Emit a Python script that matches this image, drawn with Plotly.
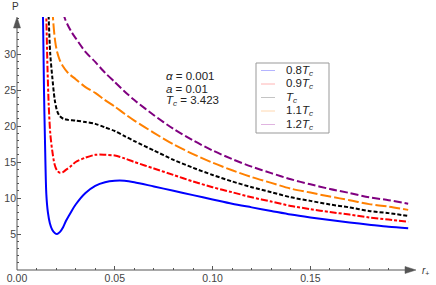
import plotly.graph_objects as go

# ---------------- data ----------------
r_08 = [0.0126, 0.0133, 0.0138, 0.0143, 0.0150, 0.0158, 0.0168, 0.0180, 0.0193, 0.0205,
        0.0220, 0.0235, 0.025, 0.0275, 0.030, 0.035, 0.040, 0.045, 0.050, 0.055,
        0.060, 0.070, 0.080, 0.090, 0.100, 0.110, 0.120, 0.130, 0.140, 0.150,
        0.160, 0.170, 0.180, 0.190, 0.200]
p_08 = [42, 35, 25, 18, 10.5, 8.0, 6.5, 5.6, 5.15, 5.0,
        5.3, 5.9, 6.8, 8.0, 9.1, 10.7, 11.7, 12.2, 12.4, 12.4,
        12.2, 11.6, 11.0, 10.4, 9.8, 9.2, 8.7, 8.2, 7.7, 7.3,
        6.95, 6.6, 6.3, 6.0, 5.8]

r_09 = [0.0143, 0.0150, 0.0156, 0.0162, 0.0170, 0.0180, 0.0192, 0.0205, 0.0220, 0.0235,
        0.025, 0.0275, 0.030, 0.035, 0.040, 0.045, 0.050, 0.055, 0.060, 0.070,
        0.080, 0.090, 0.100, 0.110, 0.120, 0.130, 0.140, 0.150, 0.160, 0.170,
        0.180, 0.190, 0.200]
p_09 = [42, 35, 28, 23, 19, 16.6, 14.7, 13.8, 13.5, 13.6,
        13.9, 14.4, 15.0, 15.6, 16.0, 16.0, 15.9, 15.5, 15.0, 14.1,
        13.2, 12.3, 11.5, 10.8, 10.1, 9.5, 8.9, 8.45, 8.05, 7.7,
        7.3, 7.0, 6.7]

r_10 = [0.0155, 0.0162, 0.0170, 0.0180, 0.0193, 0.0205, 0.0218, 0.0237, 0.026, 0.030,
        0.035, 0.040, 0.045, 0.050, 0.055, 0.060, 0.070, 0.080, 0.090, 0.100,
        0.110, 0.120, 0.130, 0.140, 0.150, 0.160, 0.170, 0.180, 0.190, 0.200]
p_10 = [42, 35, 30, 26.9, 23.6, 22.1, 21.4, 21.0, 20.85, 20.75,
        20.55, 20.3, 19.8, 19.3, 18.6, 17.9, 16.6, 15.3, 14.2, 13.2,
        12.3, 11.5, 10.8, 10.1, 9.6, 9.1, 8.7, 8.2, 7.9, 7.5]

r_11 = [0.0176, 0.0184, 0.0195, 0.0205, 0.0218, 0.0235, 0.026, 0.030, 0.035, 0.040,
        0.045, 0.050, 0.055, 0.060, 0.070, 0.080, 0.090, 0.100, 0.110, 0.120,
        0.130, 0.140, 0.150, 0.160, 0.170, 0.180, 0.190, 0.200]
p_11 = [42, 35, 31.8, 30.3, 29.2, 28.3, 27.4, 26.5, 25.4, 24.6,
        23.6, 22.7, 21.7, 20.75, 19.05, 17.45, 16.1, 14.9, 13.85, 12.9,
        12.1, 11.3, 10.75, 10.2, 9.7, 9.15, 8.8, 8.35]

r_12 = [0.0225, 0.0244, 0.026, 0.028, 0.030, 0.035, 0.040, 0.045, 0.050, 0.055,
        0.060, 0.070, 0.080, 0.090, 0.100, 0.110, 0.120, 0.130, 0.140, 0.150,
        0.160, 0.170, 0.180, 0.190, 0.200]
p_12 = [37.2, 35.0, 34.0, 33.0, 32.2, 30.3, 28.9, 27.4, 26.1, 24.8,
        23.6, 21.5, 19.6, 18.0, 16.6, 15.4, 14.35, 13.45, 12.6, 11.9,
        11.25, 10.7, 10.1, 9.7, 9.2]

series_labels = ["0.8<i>T<sub>c</sub></i>", "0.9<i>T<sub>c</sub></i>", "<i>T<sub>c</sub></i>",
                 "1.1<i>T<sub>c</sub></i>", "1.2<i>T<sub>c</sub></i>"]
x_tick_vals = [0, 0.05, 0.10, 0.15]
x_tick_text = ["0.00", "0.05", "0.10", "0.15"]
y_tick_vals = [5, 10, 15, 20, 25, 30]
y_tick_text = ["5", "10", "15", "20", "25", "30"]
param_lines = ["<i>α</i> = 0.001", "<i>a</i> = 0.01", "<i>T<sub>c</sub></i> = 3.423"]

# ---------------- styling ----------------
W, H = 436, 285
ML, MR, MT, MB = 17, 20, 17, 15
X_MAX = 0.204
Y_MAX = 35.14
FONT = "Liberation Sans, Arial, sans-serif"
AX = "#555555"

colors = ["#0000FF", "#FF0000", "#000000", "#FF8000", "#800080"]
dashes = ["solid", "7px,2px,3px,2px", "4px,2px", "11px,3px", "8px,3px"]
legend_colors = ["#B4B4FF", "#FFB4B4", "#C4C4C4", "#FFD8B0", "#E0B4E0"]

PW = W - ML - MR
PH = H - MT - MB


def px_x(px):
    return (px - ML) / PW


def px_y(py):
    return (H - MB - py) / PH


fig = go.Figure()
all_r = [r_08, r_09, r_10, r_11, r_12]
all_p = [p_08, p_09, p_10, p_11, p_12]
for r, p, c, d, name in zip(all_r, all_p, colors, dashes, series_labels):
    fig.add_trace(go.Scatter(x=r, y=p, mode="lines", name=name,
                             line=dict(color=c, width=2, dash=d, shape="spline", smoothing=0.8),
                             showlegend=False, hoverinfo="skip"))

annotations = []
shapes = []

# axis lines with arrowheads (Mathematica style)
ox, oy = px_x(ML), px_y(H - MB)
shapes.append(dict(type="line", xref="paper", yref="paper", x0=ox, y0=oy, x1=px_x(408), y1=oy,
                   line=dict(color=AX, width=1), layer="above"))
shapes.append(dict(type="path", xref="paper", yref="paper",
                   path=f"M {px_x(405)},{px_y(266.5)} L {px_x(416)},{oy} L {px_x(405)},{px_y(273.5)} Z",
                   fillcolor=AX, line=dict(color=AX, width=0.5), layer="above"))
shapes.append(dict(type="line", xref="paper", yref="paper", x0=ox, y0=oy, x1=ox, y1=px_y(25),
                   line=dict(color=AX, width=1), layer="above"))
shapes.append(dict(type="path", xref="paper", yref="paper",
                   path=f"M {px_x(13.5)},{px_y(28)} L {ox},{px_y(17)} L {px_x(20.5)},{px_y(28)} Z",
                   fillcolor=AX, line=dict(color=AX, width=0.5), layer="above"))

# axis labels
annotations.append(dict(x=px_x(15), y=px_y(6), xref="paper", yref="paper", text="P",
                        showarrow=False, font=dict(family=FONT, size=10, color="#333"),
                        xanchor="center", yanchor="middle"))
annotations.append(dict(x=px_x(420), y=px_y(271), xref="paper", yref="paper", text="<i>r</i><sub>+</sub>",
                        showarrow=False, font=dict(family=FONT, size=10, color="#333"),
                        xanchor="left", yanchor="middle"))

# parameter text
for i, t in enumerate(param_lines):
    annotations.append(dict(x=px_x(164), y=px_y(75.5 + 13 * i), xref="paper", yref="paper",
                            text=t, showarrow=False, xanchor="left", yanchor="middle",
                            font=dict(family=FONT, size=11.5, color="#222")))

# legend box
box_l, box_r, box_t, box_b = 256, 329, 63, 133
shapes.append(dict(type="rect", xref="paper", yref="paper",
                   x0=px_x(box_l), x1=px_x(box_r), y0=px_y(box_b), y1=px_y(box_t),
                   line=dict(color="#999999", width=1), fillcolor="white", layer="above"))
for i, (lab, lc) in enumerate(zip(series_labels, legend_colors)):
    yy = px_y(70.5 + 13.5 * i)
    shapes.append(dict(type="line", xref="paper", yref="paper",
                       x0=px_x(261), x1=px_x(275), y0=yy, y1=yy,
                       line=dict(color=lc, width=1), layer="above"))
    annotations.append(dict(x=px_x(284), y=yy, xref="paper", yref="paper", text=lab,
                            showarrow=False, xanchor="left", yanchor="middle",
                            font=dict(family=FONT, size=11.5, color="#222")))

tickfont = dict(family=FONT, size=10.5, color="#444")
fig.update_layout(
    width=W, height=H, autosize=False,
    margin=dict(l=ML, r=MR, t=MT, b=MB, pad=0),
    paper_bgcolor="white", plot_bgcolor="white",
    showlegend=False,
    annotations=annotations, shapes=shapes,
    xaxis=dict(range=[0, X_MAX], showgrid=False, zeroline=False, showline=False,
               ticks="inside", ticklen=4, tickwidth=1, tickcolor=AX,
               tickvals=x_tick_vals, ticktext=x_tick_text, tickfont=tickfont,
               minor=dict(dtick=0.01, tick0=0, ticks="inside", ticklen=2, tickcolor=AX),
               automargin=False, fixedrange=True),
    yaxis=dict(range=[0, Y_MAX], showgrid=False, zeroline=False, showline=False,
               ticks="inside", ticklen=4, tickwidth=1, tickcolor=AX,
               tickvals=y_tick_vals, ticktext=y_tick_text, tickfont=tickfont,
               minor=dict(dtick=1, tick0=0, ticks="inside", ticklen=2, tickcolor=AX),
               automargin=False, fixedrange=True),
)

fig.write_html("out.html", config={"displayModeBar": False},
               post_script="document.body.style.margin='0';document.body.style.overflow='hidden';")
